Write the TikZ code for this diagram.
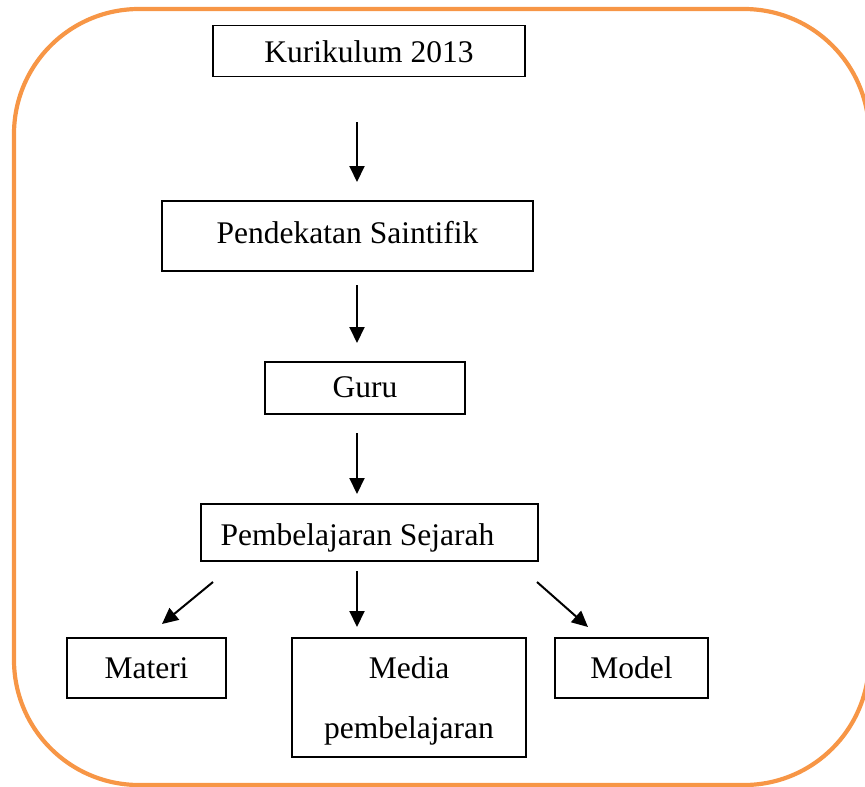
\documentclass[tikz,border=0pt]{standalone}
\usepackage{fontspec}
\setmainfont{Liberation Serif}
\usetikzlibrary{arrows.meta}
\definecolor{frameorange}{HTML}{F79646}
% text line whose baseline sits at a given offset below the box centre
\newcommand{\setline}[2]{\raisebox{-#1}[0pt][0pt]{#2}}
\begin{document}
\begin{tikzpicture}[x=1pt,y=-1pt,
  box/.style={draw=black,line width=1.4pt,inner sep=0pt,
    font=\fontsize{31.5}{60}\selectfont,align=center},
  flow/.style={line width=2pt,-{Triangle[length=16pt,width=15pt]}}]
\useasboundingbox (0,0) rectangle (865,787);
\begin{scope}
\clip (0,0) rectangle (865,787);
\draw[frameorange,line width=4.2pt,rounded corners=125pt] (14,9) rectangle (869,785);
\end{scope}

% boxes
\node[box,minimum width=312pt,minimum height=51pt] (kur) at (369,51) {\setline{11pt}{Kurikulum 2013}};
\node[box,minimum width=371pt,minimum height=70pt] (pen) at (347.5,236) {\setline{7.5pt}{Pendekatan Saintifik}};
\node[box,minimum width=200pt,minimum height=52pt] (guru) at (365,388) {\setline{9pt}{Guru}};
\node[box,minimum width=337pt,minimum height=57pt] (sej) at (369.5,532.5) {\hspace*{-24pt}\setline{12.5pt}{Pembelajaran Sejarah}};
\node[box,minimum width=159pt,minimum height=60pt] (mat) at (146.5,668) {\setline{10pt}{Materi}};
\node[box,minimum width=234pt,minimum height=119pt] (med) at (409,697.5) {\setline{10.5pt}{Media}\\\setline{10.5pt}{pembelajaran}};
\node[box,minimum width=153pt,minimum height=60pt] (mod) at (631.5,668) {\setline{10pt}{Model}};

% connector ends
\coordinate (a1) at (357,122); \coordinate (b1) at (357,182);
\coordinate (a2) at (357,285); \coordinate (b2) at (357,343);
\coordinate (a3) at (357,433); \coordinate (b3) at (357,494);
\coordinate (a4) at (213,582); \coordinate (b4) at (162,624);
\coordinate (a5) at (357,571); \coordinate (b5) at (357,627);
\coordinate (a6) at (537,582); \coordinate (b6) at (588,627);

\draw[flow] (a1) -- (b1);
\draw[flow] (a2) -- (b2);
\draw[flow] (a3) -- (b3);
\draw[flow] (a4) -- (b4);
\draw[flow] (a5) -- (b5);
\draw[flow] (a6) -- (b6);
\end{tikzpicture}
\end{document}
